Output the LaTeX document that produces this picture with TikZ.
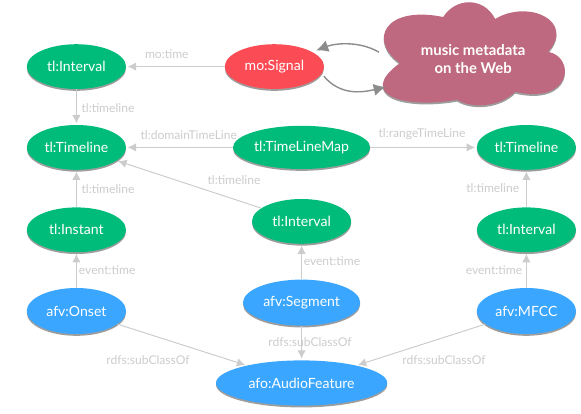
\documentclass[tikz,border=0pt]{standalone}
\usepackage{fontspec}
\setmainfont{Lato}
\usetikzlibrary{shapes.geometric,shadows,arrows.meta}
\definecolor{tlgreen}{HTML}{00BC7B}
\definecolor{sigred}{HTML}{FB4C55}
\definecolor{afvblue}{HTML}{3AA6FF}
\definecolor{webrose}{HTML}{BE697F}
\definecolor{linegrey}{HTML}{CCCCCC}
\definecolor{webgrey}{HTML}{8C8C8C}
\begin{document}
\begin{tikzpicture}[
  softshadow/.style={
    drop shadow={shadow xshift=0pt, shadow yshift=-1.3pt, opacity=0.55, fill=black!70}
  },
  concept/.style={
    ellipse, inner sep=0pt, text=white, font=\fontsize{10}{11}\selectfont,
    minimum width=2.48cm, minimum height=1.12cm, softshadow
  },
  tl/.style={concept, fill=tlgreen},
  afv/.style={concept, fill=afvblue, minimum height=1.15cm},
  signal/.style={concept, fill=sigred},
  webtext/.style={
    rectangle, inner sep=0pt, minimum width=4.36cm, minimum height=2.3cm, align=center,
    text=white, font=\fontsize{10.6}{12.8}\selectfont\bfseries
  },
  prop/.style={draw=linegrey, line width=0.7pt, shorten >=1pt, -{Latex[length=2.1mm, width=2.1mm]}},
  webarrow/.style={draw=webgrey, line width=1pt, -{Latex[length=3mm, width=3mm]}},
  proplabel/.style={text=linegrey, inner sep=0pt, font=\fontsize{8.6}{10}\selectfont}
]
\useasboundingbox (0,0) rectangle (14.525,10.325);

% --- Cloud ---
\path[fill=webrose, softshadow] (11.08, 9.9)
  .. controls (11.4, 10.4) and (12.1, 10.4) .. (12.38, 9.85)
  .. controls (13.2, 10.35) and (14.4, 9.8) .. (13.7, 9.03)
  .. controls (14.4, 8.9) and (14.3, 7.7) .. (12.88, 8.03)
  .. controls (12.5, 7.65) and (11.8, 7.6) .. (11.43, 7.83)
  .. controls (10.1, 7.6) and (8.9, 7.95) .. (10.0, 8.75)
  .. controls (9.2, 9.3) and (9.6, 10.2) .. (11.08, 9.9) -- cycle;

% --- Top row ---
\node[tl]      (topinterval) at (1.91, 8.66) {tl:Interval};
\node[signal]  (mosignal) at (6.86, 8.66) {mo:Signal};
\node[webtext] (web) at (11.83, 8.85) {music metadata\\on the Web};

% --- Timelines ---
\node[tl] (lefttimeline) at (1.91, 6.64) {tl:Timeline};
\node[tl, minimum width=3.43cm, minimum height=1.08cm] (timelinemap) at (7.54, 6.64) {tl:TimeLineMap};
\node[tl] (righttimeline) at (13.16, 6.64) {tl:Timeline};

% --- Instant and intervals ---
\node[tl] (instant) at (1.91, 4.58) {tl:Instant};
\node[tl] (midinterval) at (7.54, 4.79) {tl:Interval};
\node[tl] (rightinterval) at (13.16, 4.58) {tl:Interval};

% --- Features ---
\node[afv] (onset) at (1.91, 2.55) {afv:Onset};
\node[afv, minimum width=2.93cm] (segment) at (7.54, 2.76) {afv:Segment};
\node[afv] (mfcc) at (13.16, 2.55) {afv:MFCC};
\node[afv, minimum width=4.28cm, minimum height=1.13cm] (audiofeature) at (7.54, 0.75) {afo:AudioFeature};

% --- Connectors ---
\draw[prop] (mosignal) -- (topinterval);
\draw[prop] (topinterval) -- (lefttimeline);
\draw[prop] (timelinemap) -- (lefttimeline);
\draw[prop] (timelinemap) -- (righttimeline);
\draw[prop] (instant) -- (lefttimeline);
\draw[prop] (midinterval) -- (lefttimeline);
\draw[prop] (rightinterval) -- (righttimeline);
\draw[prop] (onset) -- (instant);
\draw[prop] (segment) -- (midinterval);
\draw[prop] (mfcc) -- (rightinterval);
\draw[prop] (onset) -- (audiofeature);
\draw[prop] (segment) -- (audiofeature);
\draw[prop] (mfcc) -- (audiofeature);

% Curved arrows to and from the cloud
\draw[webarrow] ([xshift=-0.17cm, yshift=0.17cm]web.west)
  .. controls (9.0, 9.3) and (8.4, 9.25) .. ([xshift=5pt]mosignal.25);
\draw[webarrow] ([xshift=3pt]mosignal.-12)
  .. controls (8.5, 7.95) and (9.0, 8.0) .. ([yshift=-0.7cm]web.west);

% --- Property labels ---
\node[proplabel] (l1) at (4.17, 8.98) {mo:time};
\node[proplabel] (l2) at (2.7, 7.62) {tl:timeline};
\node[proplabel] (l3) at (4.72, 6.95) {tl:domainTimeLine};
\node[proplabel] (l4) at (10.55, 6.97) {tl:rangeTimeLine};
\node[proplabel] (l5) at (2.7, 5.6) {tl:timeline};
\node[proplabel] (l6) at (5.85, 5.82) {tl:timeline};
\node[proplabel] (l7) at (12.32, 5.62) {tl:timeline};
\node[proplabel] (l8) at (2.68, 3.58) {event:time};
\node[proplabel] (l9) at (8.3, 3.8) {event:time};
\node[proplabel] (l10) at (12.35, 3.58) {event:time};
\node[proplabel] (l11) at (3.7, 1.33) {rdfs:subClassOf};
\node[proplabel] (l12) at (7.75, 1.78) {rdfs:subClassOf};
\node[proplabel] (l13) at (11.1, 1.33) {rdfs:subClassOf};

\end{tikzpicture}
\end{document}
